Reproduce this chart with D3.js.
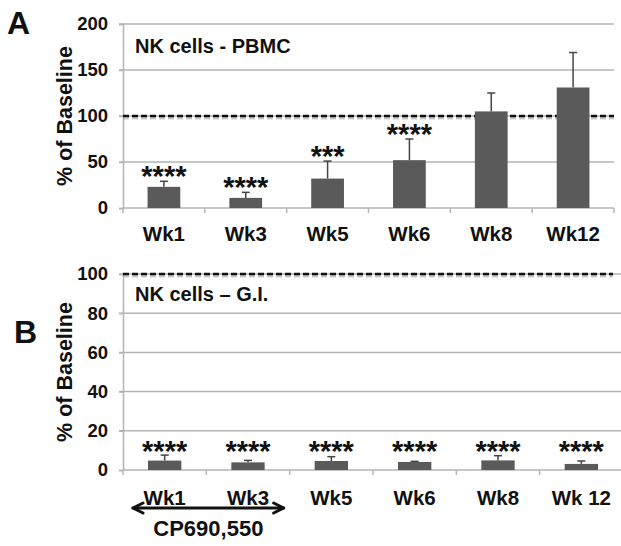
<!DOCTYPE html>
<html><head><meta charset="utf-8">
<script src="https://cdn.jsdelivr.net/npm/d3@7"></script>
<style>
body{margin:0;background:#fff;}
text{font-family:"Liberation Sans",Arial,sans-serif;font-weight:bold;fill:#111;}
</style></head>
<body><svg id="c" width="621" height="546"></svg>
<script>
// ---- data ----
const categoriesA = ["Wk1","Wk3","Wk5","Wk6","Wk8","Wk12"];
const meansA = [23, 11, 32, 52, 105, 131];
const errorsA = [6, 6, 19, 23, 20, 38];
const starsA = ["****","****","***","****","",""];
const ticksA = [0, 50, 100, 150, 200];

const categoriesB = ["Wk1","Wk3","Wk5","Wk6","Wk8","Wk 12"];
const meansB = [4.8, 3.9, 4.6, 4.1, 4.9, 3.1];
const errorsB = [2.8, 1.0, 2.2, 0.3, 2.4, 1.5];
const starsB = ["****","****","****","****","****","****"];
const ticksB = [0, 20, 40, 60, 80, 100];

const baseline = 100;
// ---------------

const svg = d3.select("#c");
const barColor = "#5a5a5a", gridColor = "#b4b4b4";
const FONT = '"Liberation Sans",Arial,sans-serif';

function panel(o){
  const g = svg.append("g");
  const x = d3.scaleBand().domain(o.cats).range([o.x0, o.x1]).paddingInner(0.6).paddingOuter(0.3);
  const xb = d3.scaleBand().domain(o.cats).range([o.x0, o.x1]);
  const y = d3.scaleLinear().domain([0, o.max]).range([o.yb, o.yt]);

  // gridlines
  g.selectAll(".grid").data(o.ticks.filter(t=>t>0)).join("line")
    .attr("x1", o.x0-4).attr("x2", o.gridEnd)
    .attr("y1", d=>y(d)).attr("y2", d=>y(d))
    .attr("stroke", gridColor).attr("stroke-width", 1.5);

  // y axis
  const ya = g.append("g").attr("transform",`translate(${o.x0},0)`)
    .call(d3.axisLeft(y).tickValues(o.ticks).tickSize(4).tickPadding(11));
  ya.select(".domain").attr("stroke", gridColor).attr("stroke-width",1.5);
  ya.selectAll(".tick line").attr("stroke", gridColor).attr("stroke-width",1.5);
  ya.selectAll(".tick text").attr("font-size", 18.5).attr("font-weight","bold")
    .attr("font-family",FONT).attr("fill","#111");

  // x axis
  const xa = g.append("g").attr("transform",`translate(0,${o.yb})`)
    .call(d3.axisBottom(xb).tickSize(0).tickPadding(o.xPad));
  xa.select(".domain").remove();
  xa.selectAll(".tick text").attr("font-size", 20.5).attr("font-weight","bold")
    .attr("font-family",FONT).attr("fill","#111");
  g.append("line").attr("x1",o.x0).attr("x2",o.gridEnd).attr("y1",o.yb).attr("y2",o.yb)
    .attr("stroke",gridColor).attr("stroke-width",1.5);
  const bounds = o.cats.map(c=>xb(c)).concat([o.x1]);
  g.selectAll(".xt").data(bounds).join("line")
    .attr("x1",d=>d).attr("x2",d=>d).attr("y1",o.yb).attr("y2",o.yb+5)
    .attr("stroke",gridColor).attr("stroke-width",1.5);

  // baseline dashed line with shadow
  g.append("line").attr("x1",o.x0).attr("x2",o.dashEnd)
    .attr("y1",y(baseline)+2).attr("y2",y(baseline)+2)
    .attr("stroke","#999").attr("stroke-opacity",0.5).attr("stroke-width",3)
    .attr("stroke-dasharray","6,3");
  g.append("line").attr("x1",o.x0).attr("x2",o.dashEnd)
    .attr("y1",y(baseline)).attr("y2",y(baseline))
    .attr("stroke","#111").attr("stroke-width",2.6)
    .attr("stroke-dasharray","6,3");

  const data = o.cats.map((c,i)=>({c, m:o.means[i], e:o.errs[i], s:o.stars[i]}));
  // error bars
  g.selectAll(".eb").data(data).join("line")
    .attr("x1",d=>x(d.c)+x.bandwidth()/2).attr("x2",d=>x(d.c)+x.bandwidth()/2)
    .attr("y1",d=>y(d.m)).attr("y2",d=>y(d.m+d.e))
    .attr("stroke","#444").attr("stroke-width",1.5);
  g.selectAll(".ec").data(data).join("line")
    .attr("x1",d=>x(d.c)+x.bandwidth()/2-4).attr("x2",d=>x(d.c)+x.bandwidth()/2+4)
    .attr("y1",d=>y(d.m+d.e)).attr("y2",d=>y(d.m+d.e))
    .attr("stroke","#444").attr("stroke-width",1.5);
  // bars
  g.selectAll(".bar").data(data).join("rect")
    .attr("x",d=>x(d.c)).attr("width",x.bandwidth())
    .attr("y",d=>y(d.m)).attr("height",d=>y(0)-y(d.m))
    .attr("fill",barColor);
  // stars
  const common = y(d3.max(data,d=>d.m+d.e));
  g.selectAll(".st").data(data.filter(d=>d.s)).join("text")
    .attr("x",d=>x(d.c)+x.bandwidth()/2)
    .attr("y",d=>o.commonStars ? common+6 : y(d.m+d.e)+5)
    .attr("text-anchor","middle").attr("font-size",29).text(d=>d.s);

  // panel title
  g.append("text").attr("x",135).attr("y",o.titleY).attr("font-size",20).text(o.title);
  // y title
  g.append("text").attr("transform",`translate(72,${o.ytc}) rotate(-90)`)
    .attr("text-anchor","middle").attr("font-size",21.5).text("% of Baseline");
  // panel letter
  g.append("text").attr("x",o.lx).attr("y",o.ly).attr("font-size",32).text(o.letter);
  return {x, xb, y};
}

panel({cats:categoriesA, means:meansA, errs:errorsA, stars:starsA, ticks:ticksA, max:200,
  x0:123, x1:614, gridEnd:614, dashEnd:614, yt:24, yb:208, xPad:18, commonStars:false,
  title:"NK cells - PBMC", titleY:53, ytc:116, letter:"A", lx:7, ly:34});

const pB = panel({cats:categoriesB, means:meansB, errs:errorsB, stars:starsB, ticks:ticksB, max:100,
  x0:123, x1:623, gridEnd:621, dashEnd:613, yt:274, yb:470, xPad:20, commonStars:true,
  title:"NK cells \u2013 G.I.", titleY:301, ytc:372, letter:"B", lx:14, ly:343});

// treatment arrow spanning Wk1–Wk3
const ax0 = pB.xb(categoriesB[0]) + 10, ax1 = pB.xb(categoriesB[1]) + pB.xb.bandwidth() - 6, ay = 508;
const ag = svg.append("g").attr("stroke","#111").attr("stroke-width",3).attr("fill","none")
  .attr("stroke-linecap","round").attr("stroke-linejoin","round");
ag.append("line").attr("x1",ax0).attr("x2",ax1).attr("y1",ay).attr("y2",ay);
ag.append("path").attr("d",`M${ax0+10},${ay-5}L${ax0},${ay}L${ax0+10},${ay+5}`);
ag.append("path").attr("d",`M${ax1-10},${ay-5}L${ax1},${ay}L${ax1-10},${ay+5}`);
svg.append("text").attr("x",(ax0+ax1)/2).attr("y",536).attr("text-anchor","middle")
  .attr("font-size",22).text("CP690,550");
</script></body></html>
